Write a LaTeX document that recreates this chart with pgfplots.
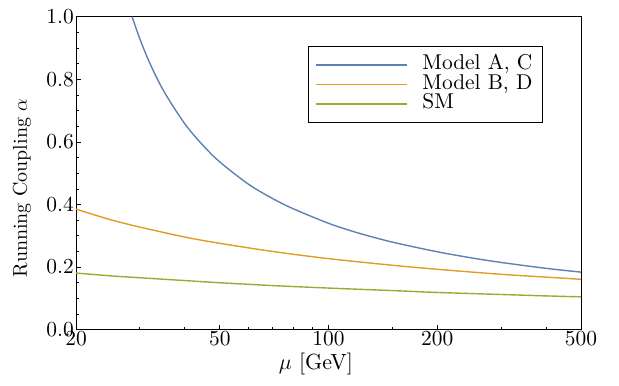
\RequirePackage{fix-cm}
\documentclass[border=0pt]{standalone}
\usepackage{fontspec}
\setmainfont{lmroman10-regular}[Extension=.otf, BoldFont=lmroman10-bold, ItalicFont=lmroman10-italic]
\usepackage{pgfplots}
\pgfplotsset{compat=1.18}
\definecolor{mblue}{RGB}{94,129,181}
\definecolor{morange}{RGB}{225,156,36}
\definecolor{mgreen}{RGB}{143,176,50}
\begin{document}
\begin{tikzpicture}
\begin{axis}[
  scale only axis, width=505bp, height=313bp,
  xmode=log, xmin=20, xmax=500, ymin=0, ymax=1,
  xtick={20,50,100,200,500}, xticklabels={20,50,100,200,500},
  minor xtick={30,40,60,70,80,90,150,300,400},
  ytick={0,0.2,0.4,0.6,0.8,1.0},
  minor y tick num=3,
  /pgf/number format/assume math mode=true,
  yticklabel style={inner sep=2bp, /pgf/number format/.cd,fixed,fixed zerofill,precision=1},
  xtick pos=bottom, ytick pos=left, tick align=inside,
  major tick length=5bp, minor tick length=3bp,
  axis line style={line width=1pt}, every tick/.style={black, line width=0.7pt},
  tick label style={font=\fontsize{21.5}{22}\selectfont},
  xticklabel style={inner sep=1bp},
  xlabel={$\mu$ [GeV]}, ylabel={Running Coupling $\alpha$},
  xlabel style={font=\fontsize{22}{23}\selectfont, at={(rel axis cs:0.475,-0.109)}, anchor=center},
  ylabel style={font=\fontsize{20}{22}\selectfont, at={(rel axis cs:-0.107,0.453)}, anchor=center},
  legend cell align=left,
  legend style={at={(0.459,0.905)}, anchor=north west, draw=black,
    font=\fontsize{21.5}{21}\selectfont, inner xsep=4bp, inner ysep=9bp, row sep=0.5bp,
    nodes={inner xsep=6bp, inner ysep=0bp, text height=14bp, text depth=5bp}},
  legend image code/.code={\draw[#1] (0bp,0bp) -- (91bp,0bp); \path (-3bp,0bp) (100bp,0bp);},
  legend image post style={line width=1.4pt},
]
\addplot[mblue, line width=1.4pt, smooth] coordinates {
(28.6,1.0)(30,0.931)(32,0.852)(35,0.762)(40,0.658)(45,0.588)(50,0.536)(60,0.465)(70,0.419)(80,0.386)(100,0.340)(120,0.310)(150,0.280)(200,0.249)(250,0.229)(300,0.215)(400,0.196)(500,0.184)};
\addlegendentry{Model A, C}
\addplot[morange, line width=1.4pt, smooth] coordinates {
(20,0.385)(25,0.351)(30,0.328)(40,0.296)(50,0.276)(70,0.250)(100,0.227)(150,0.206)(200,0.193)(300,0.177)(400,0.168)(500,0.161)};
\addlegendentry{Model B, D}
\addplot[mgreen, line width=1.4pt, smooth] coordinates {
(20,0.181)(25,0.172)(30,0.166)(40,0.157)(50,0.150)(70,0.141)(100,0.133)(150,0.125)(200,0.119)(300,0.1125)(400,0.108)(500,0.105)};
\addlegendentry{SM}
\end{axis}
\pgfresetboundingbox
\path (current axis.south west) ++(-76bp,-56bp) coordinate (bl);
\path (current axis.north east) ++(38bp,16.7bp) coordinate (tr);
\path[use as bounding box] (bl) rectangle (tr);
\end{tikzpicture}
\end{document}
